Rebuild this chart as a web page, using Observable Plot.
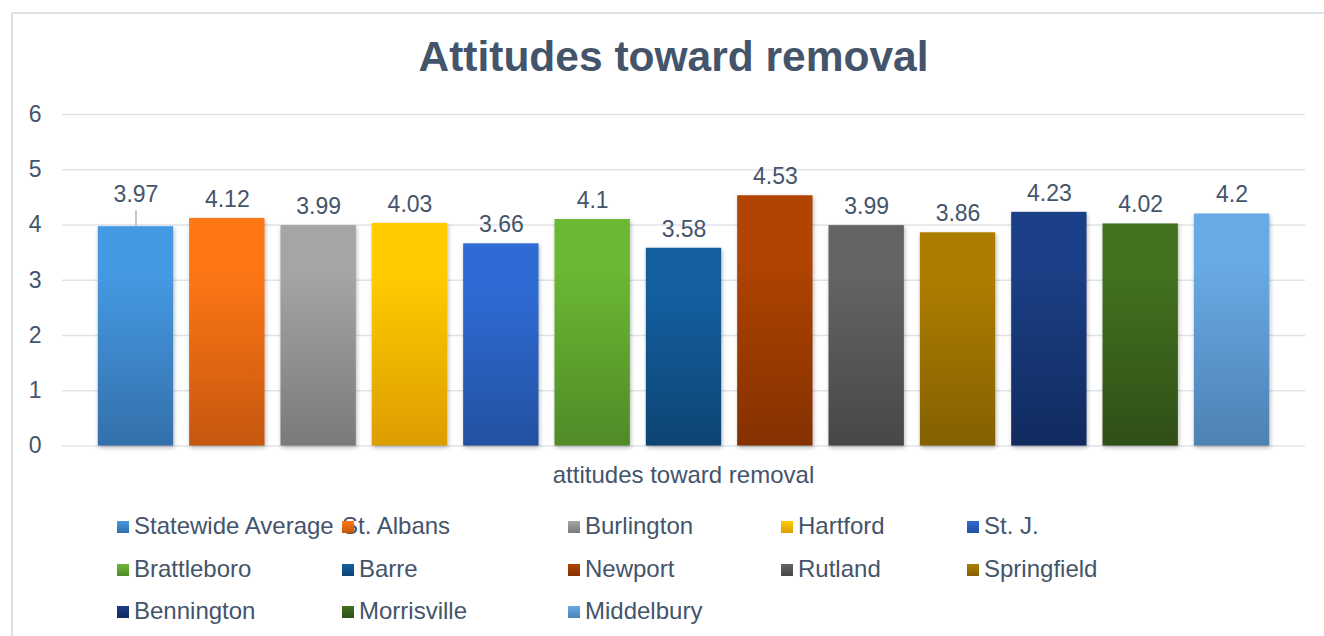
<!DOCTYPE html>
<html>
<head>
<meta charset="utf-8">
<script src="https://cdn.jsdelivr.net/npm/d3@7"></script>
<script src="https://cdn.jsdelivr.net/npm/@observablehq/plot@0.6"></script>
<style>
  html, body { margin: 0; padding: 0; background: #ffffff; }
  body { font-family: "Liberation Sans", Arial, sans-serif; color: #44546a; }
  #root { position: relative; width: 1324px; height: 636px; overflow: hidden; }
  #frame { position: absolute; left: 11px; top: 12px; width: 1400px; height: 700px;
           border-top: 2px solid #dde2e9; border-left: 2px solid #dde2e9; box-sizing: border-box; }
  #title { position: absolute; left: 0; top: 36px; width: 1347px; text-align: center;
           font-size: 42.5px; font-weight: bold; line-height: 42px; color: #44546a; }
  #chart { position: absolute; left: 0; top: 0; }
  #xtitle { position: absolute; left: 62px; width: 1243px; top: 461px; text-align: center;
            font-size: 24px; line-height: 28px; color: #44546a; }
  .leg { position: absolute; font-size: 24px; line-height: 28px; color: #44546a; white-space: nowrap; }
  .sw { position: absolute; width: 12px; height: 12px; top: 9px; left: 0; z-index: 2; }
  .lt { position: absolute; left: 17px; top: 0; z-index: 1; }
</style>
</head>
<body>
<div id="root">
  <div id="frame"></div>
  <div id="chart"></div>
  <div id="title"></div>
  <div id="xtitle"></div>
  <div id="legend"></div>
</div>
<script>
// ---- data ----
const titleText = "Attitudes toward removal";
const axisTitle = "attitudes toward removal";
const towns = ["Statewide Average", "St. Albans", "Burlington", "Hartford", "St. J.", "Brattleboro",
               "Barre", "Newport", "Rutland", "Springfield", "Bennington", "Morrisville", "Middelbury"];
const scores = [3.97, 4.12, 3.99, 4.03, 3.66, 4.1, 3.58, 4.53, 3.99, 3.86, 4.23, 4.02, 4.2];
const yTicks = [0, 1, 2, 3, 4, 5, 6];
// ---- styles ----
const topColors = ["#4599e2", "#ff7715", "#a5a5a5", "#ffcc00", "#2e6bd4", "#6bb834",
                   "#135fa0", "#b24401", "#646464", "#ad7d00", "#1b3f87", "#43711f", "#68aae6"];
const bottomColors = ["#3370ab", "#c5570f", "#7a7a7a", "#dc9d00", "#2351a1", "#4f8b27",
                      "#0d4473", "#843100", "#474747", "#836000", "#112b5f", "#304f17", "#4f81b3"];

const data = towns.map((name, i) => ({name, value: scores[i], i}));
const textColor = "#44546a";

const plot = Plot.plot({
  width: 1324,
  height: 470,
  marginTop: 114,
  marginBottom: 24.4,
  marginLeft: 62,
  marginRight: 19,
  style: {fontFamily: "Liberation Sans, Arial, sans-serif", color: textColor, background: "transparent", overflow: "visible"},
  x: {domain: towns, paddingInner: 0.175, paddingOuter: 0.0875, insetLeft: 27.8, insetRight: 27.8, round: false, axis: null},
  y: {domain: [0, 6], ticks: yTicks, tickSize: 0, tickPadding: 21, tickFormat: d => String(d), label: null},
  color: {type: "ordinal", domain: towns, range: towns.map((_, i) => `url(#grad${i})`)},
  marks: [
    Plot.ruleY(yTicks, {stroke: "#dfe3e9", strokeWidth: 1.5}),
    Plot.axisY({ticks: yTicks, tickSize: 0, tickPadding: 21, fontSize: 23, fill: textColor, label: null, tickFormat: d => String(d)}),
    Plot.barY(data, {x: "name", y: "value", fill: "name"}),
    Plot.ruleX(data.slice(0, 1), {x: "name", y1: "value", y2: d => d.value + 0.29, stroke: "#aab6c6", strokeWidth: 1.5}),
    Plot.text(data.slice(0, 1), {x: "name", y: "value", text: d => String(d.value), dy: -32, lineAnchor: "middle", fontSize: 23, fill: textColor}),
    Plot.text(data.slice(1), {x: "name", y: "value", text: d => String(d.value), dy: -19, lineAnchor: "middle", fontSize: 23, fill: textColor})
  ]
});

// gradients
const svgNS = "http://www.w3.org/2000/svg";
const defs = document.createElementNS(svgNS, "defs");
towns.forEach((_, i) => {
  const g = document.createElementNS(svgNS, "linearGradient");
  g.setAttribute("id", `grad${i}`);
  g.setAttribute("x1", "0"); g.setAttribute("y1", "0");
  g.setAttribute("x2", "0"); g.setAttribute("y2", "1");
  [[0, topColors[i]], [0.22, topColors[i]], [1, bottomColors[i]]].forEach(([o, c]) => {
    const s = document.createElementNS(svgNS, "stop");
    s.setAttribute("offset", o);
    s.setAttribute("stop-color", c);
    g.appendChild(s);
  });
  defs.appendChild(g);
});
plot.insertBefore(defs, plot.firstChild);
const barG = plot.querySelector('g[aria-label="bar"]');
if (barG) barG.style.filter = "drop-shadow(1px 2px 2px rgba(0,0,0,0.28))";
document.getElementById("chart").appendChild(plot);

document.getElementById("title").textContent = titleText;
document.getElementById("xtitle").textContent = axisTitle;

// legend (5 columns, 3 rows)
const colX = [117, 342, 568, 781, 967];
const rowY = [512, 555, 597];
const legend = document.getElementById("legend");
towns.forEach((name, i) => {
  const item = document.createElement("div");
  item.className = "leg";
  item.style.left = colX[i % 5] + "px";
  item.style.top = rowY[Math.floor(i / 5)] + "px";
  const sw = document.createElement("div");
  sw.className = "sw";
  sw.style.background = `linear-gradient(${topColors[i]}, ${bottomColors[i]})`;
  const t = document.createElement("div");
  t.className = "lt";
  t.textContent = name;
  if (i === 1) t.style.left = "0px";
  item.appendChild(sw);
  item.appendChild(t);
  legend.appendChild(item);
});
</script>
</body>
</html>
